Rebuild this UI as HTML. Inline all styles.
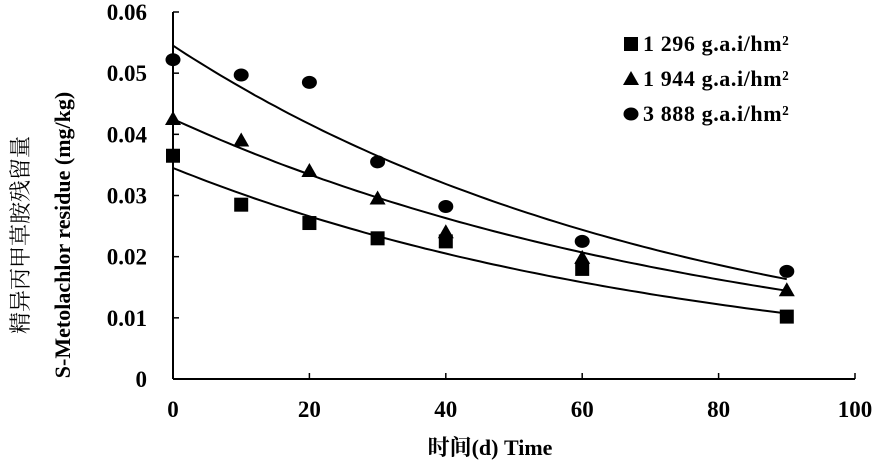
<!DOCTYPE html>
<html><head><meta charset="utf-8"><style>
body{margin:0;background:#fff;}
svg{display:block;font-family:"Liberation Serif","Noto Serif CJK SC",serif;}
</style></head><body>
<svg id="chart" width="886" height="472"></svg>
<script>
const xTicks=[0,20,40,60,80,100];
const yTicks=[0,0.01,0.02,0.03,0.04,0.05,0.06];
const yTickLabels=["0","0.01","0.02","0.03","0.04","0.05","0.06"];
const days=[0,10,20,30,40,60,90];
const s1296=[0.0365,0.0285,0.0255,0.023,0.0225,0.018,0.0102];
const s1944=[0.0425,0.039,0.034,0.0295,0.024,0.0198,0.0145];
const s3888=[0.0522,0.0497,0.0485,0.0355,0.0282,0.0225,0.0176];
const fitC0=[0.0345,0.0425,0.0545];
const fitK=[0.0130,0.0120,0.0134];
const seriesNames=["1 296 g.a.i/hm²","1 944 g.a.i/hm²","3 888 g.a.i/hm²"];
const NS="http://www.w3.org/2000/svg";
const svg=document.getElementById('chart');
const X0=173,X1=855,Y0=379,Y1=12;
const xs=v=>X0+(v/100)*(X1-X0);
const ys=v=>Y0-(v/0.06)*(Y0-Y1);
function el(t,a){const e=document.createElementNS(NS,t);for(const k in a)e.setAttribute(k,a[k]);svg.appendChild(e);return e;}
let e;
e=el('line',{x1:X0,y1:Y1,x2:X0,y2:Y0,stroke:'#000','stroke-width':2});


e=el('line',{x1:X0,y1:Y0,x2:X1,y2:Y0,stroke:'#000','stroke-width':2});


yTicks.forEach((v,i)=>{
 e=el('line',{x1:X0,y1:ys(v),x2:X0+6,y2:ys(v),stroke:'#000','stroke-width':1.5});
 
 
 e=el('text',{x:X0-26,y:ys(v)+8,'text-anchor':'end','font-size':23,'font-weight':'bold'});
 e.textContent=yTickLabels[i];
 
 
});
xTicks.forEach(v=>{
 e=el('line',{x1:xs(v),y1:Y0,x2:xs(v),y2:Y0-6,stroke:'#000','stroke-width':1.5});
 
 
 e=el('text',{x:xs(v),y:Y0+38,'text-anchor':'middle','font-size':23,'font-weight':'bold'});
 e.textContent=String(v);
 
 
});
e=el('text',{x:490,y:455,'text-anchor':'middle','font-size':22,'font-weight':'bold'});
e.textContent='时间(d) Time';


e=el('text',{x:0,y:0,'text-anchor':'middle','font-size':22,transform:'translate(28,235) rotate(-90)'});
e.textContent='精异丙甲草胺残留量';


e=el('text',{x:0,y:0,'text-anchor':'middle','font-size':22,'font-weight':'bold',transform:'translate(70,235) rotate(-90)'});
e.textContent='S-Metolachlor residue (mg/kg)';


fitC0.forEach((c,i)=>{
 let d='';
 for(let t=0;t<=90;t+=1){d+=(t?'L':'M')+xs(t).toFixed(1)+','+ys(c*Math.exp(-fitK[i]*t)).toFixed(1);}
 e=el('path',{d:d,fill:'none',stroke:'#000','stroke-width':2});
 
 
});
function marker(type,cx,cy){
 if(type===0)return el('rect',{x:cx-7,y:cy-7,width:14,height:14,fill:'#000'});
 if(type===1)return el('polygon',{points:`${cx},${cy-8} ${cx+8},${cy+6} ${cx-8},${cy+6}`,fill:'#000'});
 return el('ellipse',{cx:cx,cy:cy,rx:7.5,ry:6.5,fill:'#000'});
}
[s1296,s1944,s3888].forEach((arr,si)=>{
 arr.forEach((v,j)=>{
  const m=marker(si,xs(days[j]),ys(v));
  
  
 });
});
seriesNames.forEach((n,i)=>{
 const y=51+i*35;
 const m=marker(i,631,y-7);
 
 
 const t=el('text',{x:643,y:y,'font-size':22,'font-weight':'bold','letter-spacing':'0.6'});
 t.textContent=n;
 
 
});
</script>
</body></html>
